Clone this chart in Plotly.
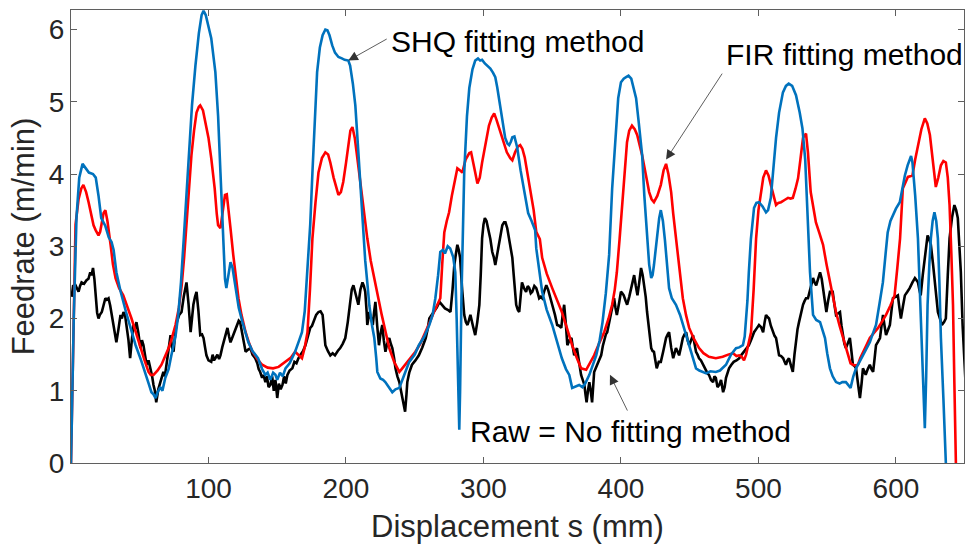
import plotly.graph_objects as go

# ---------------- data ----------------
shq_x = [0, 2, 4, 6, 8.4, 11, 13, 16, 18, 20, 22, 25, 27.5, 29.5, 31, 33, 36, 40, 44, 47, 51, 54, 56.5, 58.5, 60, 61.5, 63, 65, 66.5, 68.6, 71, 73, 76, 78, 80, 82, 84, 85.5, 88, 90.5, 93, 95, 96.4, 98, 100, 102, 105, 107, 108.7, 110, 111, 112, 113, 114.5, 116, 117.5, 119.6, 122, 124.7, 129, 132, 136, 139, 141.4, 143, 145, 147, 148.7, 150, 152, 154, 156, 159, 163, 166, 168, 170, 172, 174, 175.6, 177, 179, 181, 183, 185, 186.5, 188, 190, 192, 194.5, 197, 199, 201.7, 203, 205, 206.8, 208, 210, 212, 214, 215.5, 217, 219, 220.6, 222, 222.8, 225, 227, 228.6, 231, 233.7, 236, 238.8, 242, 246, 250, 253, 257, 260.6, 263, 265, 267, 268.6, 270.5, 272, 274, 275.8, 278, 279.5, 280.5, 281.5, 282.4, 283, 284, 286, 288, 289.7, 292, 294, 296, 297.6, 299, 301, 303, 305, 307, 308.6, 310, 312, 314, 315.8, 317.5, 318.7, 320, 321, 322.5, 324.5, 327, 329, 331, 332.5, 335, 337.6, 338.4, 340.5, 342.7, 346, 350, 353.5, 357, 360, 362.4, 364.5, 367, 369.6, 372, 374, 377, 379.5, 382, 384.5, 386.6, 389, 391.4, 393.6, 396.5, 398, 400, 402, 403.7, 405.5, 407.5, 409, 411, 413, 415.4, 417, 419, 420.5, 422, 423, 424, 426, 427.8, 429, 430.5, 432, 433.5, 435, 437, 440, 443, 447.4, 451, 454.6, 457, 459.7, 462, 465, 469, 472, 476.4, 480, 483.7, 486, 488.7, 490, 491, 492, 493, 494.5, 496.8, 498.5, 500.4, 503, 505.5, 507, 509, 511, 512.8, 515, 517.8, 520, 522, 524.5, 527.3, 530, 532, 534, 535.5, 537.5, 539.7, 542, 544.8, 546.5, 548.4, 550, 552, 554, 556.4, 559, 561, 563.6, 565, 567, 569, 571, 573.5, 576, 578.5, 581, 583, 585.5, 588, 590.5, 592.5, 594, 596, 597.8, 600, 602.8, 604.5, 606.5, 608.5, 610, 611, 612, 614, 616, 617.5, 619, 620, 621, 622, 623, 624.3, 625.4, 626.7, 628, 629.3, 630.5, 631.6, 632.7, 634.5, 636.3]
shq_y = [0, 2.0, 3.4, 3.95, 4.14, 4.08, 4.02, 4.0, 3.95, 3.7, 3.39, 3.28, 3.12, 3.06, 2.95, 2.64, 2.38, 2.09, 1.82, 1.63, 1.42, 1.26, 1.1, 0.98, 0.95, 0.9, 0.98, 1.05, 1.0, 1.18, 1.3, 1.49, 1.75, 2.05, 2.5, 3.1, 3.75, 4.26, 4.95, 5.5, 5.95, 6.2, 6.26, 6.2, 6.05, 5.88, 5.41, 4.8, 4.02, 3.4, 2.88, 2.55, 2.42, 2.6, 2.78, 2.7, 2.42, 2.15, 1.95, 1.67, 1.55, 1.45, 1.3, 1.22, 1.25, 1.15, 1.25, 1.22, 1.15, 1.25, 1.2, 1.31, 1.38, 1.54, 1.7, 1.81, 2.1, 2.64, 3.3, 4.02, 4.7, 5.41, 5.75, 5.92, 6.0, 5.99, 5.92, 5.78, 5.68, 5.62, 5.6, 5.58, 5.57, 5.5, 5.25, 4.95, 4.6, 4.0, 3.3, 2.8, 2.5, 2.18, 1.9, 1.73, 1.45, 1.26, 1.17, 1.15, 1.12, 1.06, 0.98, 1.02, 1.04, 1.2, 1.4, 1.5, 1.63, 1.75, 1.91, 2.05, 2.28, 2.6, 2.92, 2.95, 2.9, 3.0, 2.97, 2.85, 2.64, 2.0, 1.0, 0.46, 1.0, 2.3, 4.02, 4.8, 5.19, 5.45, 5.57, 5.6, 5.57, 5.58, 5.53, 5.5, 5.46, 5.4, 5.34, 5.2, 4.95, 4.7, 4.5, 4.42, 4.4, 4.45, 4.51, 4.52, 4.37, 4.05, 3.82, 3.6, 3.46, 3.35, 3.22, 2.97, 2.65, 2.37, 2.12, 1.91, 1.68, 1.45, 1.3, 1.22, 1.04, 1.06, 1.08, 1.05, 1.1, 1.22, 1.35, 1.49, 1.7, 1.95, 2.35, 2.88, 3.8, 4.72, 5.05, 5.27, 5.32, 5.34, 5.36, 5.32, 5.22, 5.05, 4.7, 4.26, 3.7, 3.11, 2.75, 2.56, 2.6, 2.74, 3.1, 3.39, 3.5, 3.35, 3.08, 2.75, 2.42, 2.28, 2.19, 2.05, 1.77, 1.55, 1.31, 1.28, 1.26, 1.24, 1.27, 1.26, 1.28, 1.36, 1.5, 1.59, 1.6, 1.63, 1.75, 1.95, 2.25, 2.64, 3.1, 3.53, 3.6, 3.61, 3.55, 3.47, 3.5, 3.67, 4.1, 4.5, 4.85, 5.13, 5.22, 5.25, 5.22, 5.09, 4.85, 4.63, 4.2, 3.5, 2.64, 2.05, 1.98, 1.95, 1.85, 1.73, 1.52, 1.31, 1.2, 1.12, 1.1, 1.12, 1.12, 1.08, 1.04, 1.2, 1.31, 1.4, 1.49, 1.58, 1.67, 1.78, 1.91, 2.2, 2.5, 2.9, 3.19, 3.35, 3.43, 3.52, 3.61, 3.8, 3.98, 4.12, 4.22, 4.25, 4.16, 3.7, 3.11, 2.3, 1.49, 0.9, 0.48, 1.2, 2.19, 2.75, 3.11, 3.35, 3.47, 3.35, 3.11, 2.5, 1.73, 0.9, 0]

fir_x = [0, 2, 3.3, 5.5, 7.5, 9, 11, 12.8, 14.5, 16.4, 18, 20, 21.2, 22.3, 23.7, 25, 26.5, 28.8, 30.5, 32.4, 35, 38, 41, 44, 47, 50.5, 53.5, 56.4, 58, 60, 63, 65.8, 68.5, 71, 73.5, 76, 78.5, 80.5, 82.3, 84, 86, 87.6, 89.5, 91.3, 93, 94, 96, 97.8, 100, 102, 104.5, 106, 107, 108.7, 110.5, 112, 113.3, 114.5, 116, 118, 120, 121.8, 124, 127, 129.5, 132, 135.5, 139, 143, 147, 151, 156, 160, 163, 165.5, 168, 170, 172, 173.8, 175.6, 177.8, 180, 182.5, 185, 187, 188.6, 191, 194.5, 196.3, 198, 200, 201.7, 203.2, 204.7, 206.4, 208, 210, 212, 213.8, 215.5, 218, 221, 223.5, 226, 229, 231.5, 235, 238.8, 240.5, 243, 246.5, 250.5, 254, 258, 261, 264, 266.5, 268.6, 270, 271.5, 273.3, 275, 277, 278.8, 281, 283, 284.6, 287, 289.7, 291, 292, 294, 295.6, 297.3, 299, 301.5, 304, 306, 307.8, 309.5, 311.4, 313, 315, 317, 319.5, 321, 323, 325, 326.7, 328.3, 330, 332, 334, 336.5, 338.4, 341, 342.7, 346, 350, 353.5, 357, 360.5, 364.5, 368, 371, 374.7, 377.5, 380.5, 384, 387.8, 391, 393.6, 395.5, 397, 399, 401, 402.7, 404.4, 406, 408, 410, 411.8, 413.6, 415.4, 418, 420.5, 422.3, 424, 426.5, 429, 431, 432.8, 434.5, 436.5, 438, 440, 442.5, 445, 447.3, 449.6, 453, 456.8, 460, 464, 469, 474, 478, 481.5, 484, 486, 487.8, 489.5, 491, 493, 494.6, 496.5, 498.3, 500, 501.8, 503.5, 505.5, 507.3, 509, 510.8, 512.8, 514.5, 516.4, 519, 521.5, 523.3, 525, 527, 528.8, 530.5, 532.4, 534.6, 536, 538, 540, 541.8, 544.5, 547, 549.5, 552, 554.2, 556.4, 559, 561.5, 564.3, 567, 569.7, 572.4, 574, 576, 578.5, 581, 584, 587, 590, 592.8, 596, 599, 601, 603, 605, 607, 608.7, 610.4, 612, 614, 616, 618.5, 621, 622.8, 624.7, 626.8, 629, 630.8, 632.7, 634.5, 636.3, 637.7, 639, 640.3, 641.5, 642.5, 643.6]
fir_y = [0, 2.0, 3.3, 3.65, 3.8, 3.85, 3.75, 3.61, 3.45, 3.29, 3.22, 3.15, 3.2, 3.33, 3.46, 3.5, 3.35, 3.02, 2.75, 2.56, 2.42, 2.32, 2.17, 2.0, 1.82, 1.59, 1.42, 1.26, 1.22, 1.22, 1.28, 1.36, 1.47, 1.59, 1.74, 1.91, 2.15, 2.46, 2.85, 3.33, 3.85, 4.26, 4.6, 4.85, 4.93, 4.95, 4.88, 4.72, 4.5, 4.22, 3.8, 3.45, 3.29, 3.25, 3.55, 3.71, 3.72, 3.53, 3.25, 2.88, 2.55, 2.28, 2.05, 1.81, 1.66, 1.54, 1.44, 1.36, 1.32, 1.31, 1.33, 1.4, 1.46, 1.54, 1.5, 1.45, 1.6, 1.81, 2.4, 3.11, 3.6, 4.02, 4.22, 4.3, 4.27, 4.16, 3.95, 3.71, 3.75, 3.89, 4.15, 4.4, 4.6, 4.65, 4.5, 4.26, 3.95, 3.62, 3.35, 3.11, 2.8, 2.5, 2.27, 2.05, 1.8, 1.59, 1.4, 1.26, 1.3, 1.36, 1.45, 1.54, 1.65, 1.81, 1.95, 2.09, 2.2, 2.28, 2.75, 3.19, 3.35, 3.47, 3.7, 3.89, 4.08, 4.05, 4.02, 4.2, 4.29, 4.3, 4.22, 4.02, 3.87, 3.95, 4.16, 4.42, 4.67, 4.78, 4.84, 4.75, 4.63, 4.52, 4.4, 4.3, 4.22, 4.19, 4.3, 4.38, 4.4, 4.35, 4.23, 4.02, 3.82, 3.5, 3.2, 3.1, 2.84, 2.62, 2.42, 2.25, 2.09, 1.88, 1.63, 1.45, 1.31, 1.29, 1.38, 1.49, 1.65, 1.81, 2.0, 2.19, 2.4, 2.64, 3.1, 3.57, 4.05, 4.44, 4.6, 4.67, 4.62, 4.54, 4.4, 4.26, 4.0, 3.75, 3.65, 3.61, 3.7, 3.85, 4.05, 4.14, 4.0, 3.75, 3.45, 3.11, 2.7, 2.28, 2.05, 1.87, 1.72, 1.59, 1.52, 1.47, 1.45, 1.47, 1.5, 1.52, 1.48, 1.49, 1.47, 1.42, 1.5, 1.65, 1.81, 2.4, 3.11, 3.5, 3.75, 3.95, 4.05, 3.98, 3.85, 3.7, 3.57, 3.6, 3.61, 3.64, 3.67, 3.66, 3.67, 3.8, 3.94, 4.2, 4.5, 4.56, 4.3, 3.75, 3.5, 3.33, 3.17, 3.02, 2.75, 2.5, 2.3, 2.09, 1.9, 1.73, 1.55, 1.38, 1.35, 1.36, 1.45, 1.54, 1.63, 1.73, 1.8, 1.87, 1.96, 2.05, 2.18, 2.32, 2.7, 3.11, 3.8, 3.9, 3.96, 3.97, 3.98, 4.2, 4.4, 4.62, 4.77, 4.7, 4.54, 4.2, 3.82, 3.95, 4.12, 4.18, 4.16, 3.95, 3.57, 2.9, 2.19, 1.1, 0]

raw_x = [0.5, 1.5, 3.3, 4.5, 5.5, 6.6, 7.7, 9.5, 11.3, 12.7, 14, 15, 16, 17, 17.8, 19, 20, 21, 22.4, 23.7, 25, 26, 27.3, 28.5, 29.6, 31, 32, 33, 34.5, 36, 37, 38.2, 39.3, 40.5, 41.8, 43, 44.2, 45.3, 46.5, 47.6, 49, 50.5, 51.6, 52.7, 53.8, 55, 56.4, 57.8, 59, 60, 61, 62, 63.5, 65, 66, 67.2, 68.3, 69.5, 71, 72.4, 73.5, 74.6, 75.8, 77, 78.7, 80.4, 82, 84, 85.5, 87, 88, 89, 90.2, 91.3, 92.7, 94, 95.3, 96.4, 97.5, 98.5, 100, 102, 103, 104, 105, 106.5, 107.7, 108.7, 110, 111, 112.4, 113.8, 115, 116, 117, 118, 119.5, 121, 122, 123, 124.5, 126, 127, 128.8, 130.5, 132, 134, 135.5, 136.5, 137.6, 139, 140, 141.4, 142.5, 143.7, 145, 146.3, 147.5, 148.7, 150, 151.2, 152.5, 153.8, 155, 156.2, 157.4, 159, 161, 162.5, 164, 165.4, 167, 168.8, 170.5, 172.2, 174, 175.3, 176.5, 178.3, 180, 181.5, 183, 184, 185, 186.8, 188.6, 190.3, 192, 194, 195.8, 197.6, 199.5, 201.3, 203, 204.2, 205.4, 207, 209, 210.5, 212, 213, 214, 215, 215.5, 216.3, 217, 218.3, 219.5, 220.5, 221.4, 222.7, 224, 225.2, 226.4, 227.5, 228.7, 230, 231.5, 232.6, 233.7, 235, 236, 237.4, 238.8, 240, 241, 242, 243, 244, 244.6, 246, 248, 250.5, 253, 255.5, 258, 259.4, 260.6, 262.3, 264, 266, 268, 270, 272, 274, 276, 277.5, 278.8, 280, 281, 282, 283, 284.5, 286, 287.2, 288.4, 289.5, 290.5, 292.3, 294, 295.5, 297, 298, 299, 300, 301, 302.2, 303.4, 305, 306.4, 307.5, 308.6, 310, 311.4, 312.5, 313.7, 315, 316, 317.3, 318.7, 320, 321, 322, 323.8, 325, 326, 327, 328, 329.5, 331, 332.2, 333.3, 334.4, 335.5, 337, 338.4, 339.5, 340.5, 341.6, 342.7, 344.2, 345.7, 347, 348, 349, 350, 352, 353.6, 355, 356.6, 357.6, 358.7, 360, 361, 362.5, 364, 365, 366, 367, 368, 369.5, 371, 372.2, 373.4, 374.2, 375, 376, 377, 378, 379, 380.5, 381.6, 382.7, 384, 385.6, 386.8, 388, 389, 390, 391.5, 393, 394, 395, 396, 397, 398.5, 400, 401, 402, 403.3, 404.5, 406, 407.4, 408.5, 409.6, 410.8, 412, 413.3, 414.6, 415.8, 417, 418, 419, 420.5, 422, 423, 424, 425, 426, 427.5, 429, 430.8, 432.8, 434, 435, 436.5, 438, 439, 440, 441, 442.3, 443.6, 445, 446.2, 447.4, 448.5, 449.6, 451, 452.4, 453.5, 454.6, 455.7, 456.8, 458.2, 459.7, 461, 462, 463, 464, 465.5, 467, 468, 469, 470.2, 471.5, 472.8, 474.3, 475.4, 476.4, 477.5, 478.6, 480.3, 482, 484, 486, 487.8, 489.5, 491.3, 493, 495, 496.8, 498.6, 500.4, 502, 503.4, 504.5, 505.5, 506.6, 507.7, 509, 510.6, 511.7, 512.8, 514, 515, 516.5, 518, 519, 520, 521.1, 522.2, 523.6, 525, 526.2, 527.3, 528.4, 529.5, 531, 532.4, 533.5, 534.6, 536, 537.8, 539.7, 540.8, 542, 543.4, 544.8, 546, 547, 548.2, 549.4, 550.7, 552, 553, 554, 555.2, 556.4, 557.8, 559.3, 560.4, 561.5, 562.5, 563.6, 565, 566.5, 567.6, 568.7, 570, 571, 572.4, 573.8, 575, 576, 577, 578, 579.5, 581, 582.2, 583.4, 584.5, 585.5, 587, 588.4, 589.5, 590.6, 591.7, 592.8, 594.2, 595.6, 596.7, 597.8, 599.6, 601.4, 602.5, 603.6, 605, 606.5, 608.3, 610, 612, 613.8, 615, 616, 617, 618, 619.5, 621, 622, 623, 624.2, 625.4, 627, 628.3, 629.4, 630.5, 632, 633.4, 635, 636.3, 637.7, 639, 640.8, 642.5, 643.8, 645, 646, 647.2, 648.5, 650, 652]
raw_y = [2.3, 2.45, 2.46, 2.4, 2.37, 2.45, 2.5, 2.48, 2.53, 2.55, 2.64, 2.6, 2.7, 2.55, 2.32, 2.08, 2.0, 2.05, 2.09, 2.2, 2.28, 2.26, 2.28, 2.18, 2.05, 1.9, 1.75, 1.67, 1.85, 2.05, 2.0, 2.09, 2.05, 1.91, 1.7, 1.45, 1.65, 1.91, 1.85, 1.95, 1.8, 1.59, 1.7, 1.63, 1.5, 1.36, 1.42, 1.31, 1.2, 1.08, 1.0, 0.84, 1.02, 1.12, 1.2, 1.26, 1.2, 1.36, 1.55, 1.77, 1.6, 1.54, 1.8, 1.95, 2.05, 2.09, 2.3, 2.5, 2.2, 1.81, 2.0, 2.19, 2.3, 2.37, 2.1, 1.77, 1.78, 1.73, 1.6, 1.49, 1.42, 1.4, 1.5, 1.42, 1.45, 1.5, 1.44, 1.49, 1.6, 1.67, 1.8, 1.87, 1.75, 1.67, 1.72, 1.77, 1.85, 1.91, 1.97, 1.95, 1.8, 1.62, 1.54, 1.57, 1.59, 1.5, 1.45, 1.38, 1.3, 1.26, 1.18, 1.22, 1.12, 1.2, 1.05, 1.08, 1.2, 1.0, 1.15, 0.9, 1.1, 1.02, 1.08, 1.2, 1.1, 1.22, 1.28, 1.31, 1.4, 1.38, 1.45, 1.5, 1.55, 1.63, 1.75, 1.87, 1.9, 1.95, 2.05, 2.09, 2.1, 2.05, 1.8, 1.63, 1.55, 1.49, 1.52, 1.49, 1.55, 1.59, 1.65, 1.73, 1.95, 2.19, 2.4, 2.46, 2.35, 2.19, 2.4, 2.5, 2.45, 2.37, 2.1, 1.91, 2.0, 2.09, 2.0, 1.91, 2.1, 2.23, 1.9, 1.63, 1.8, 1.91, 1.7, 1.54, 1.65, 1.73, 1.65, 1.59, 1.45, 1.31, 1.2, 1.12, 1.0, 0.9, 0.8, 0.71, 0.95, 1.12, 1.25, 1.36, 1.42, 1.49, 1.6, 1.73, 1.85, 2.0, 2.05, 2.09, 2.15, 2.23, 2.18, 2.14, 2.12, 2.09, 2.4, 2.74, 2.9, 3.02, 2.95, 2.84, 2.4, 2.05, 1.95, 1.91, 1.98, 2.05, 1.9, 1.77, 1.95, 2.19, 2.6, 3.11, 3.3, 3.39, 3.35, 3.25, 3.1, 2.92, 2.85, 2.74, 2.88, 3.02, 3.15, 3.29, 3.33, 3.33, 3.25, 3.11, 2.95, 2.84, 2.6, 2.19, 2.12, 2.09, 2.3, 2.5, 2.42, 2.37, 2.45, 2.42, 2.35, 2.37, 2.45, 2.42, 2.35, 2.28, 2.3, 2.28, 2.38, 2.46, 2.4, 2.32, 2.25, 2.19, 2.05, 1.91, 1.9, 1.87, 2.05, 2.19, 1.9, 1.63, 1.7, 1.73, 1.6, 1.49, 1.55, 1.59, 1.4, 1.22, 1.15, 1.08, 0.95, 0.84, 1.0, 1.12, 1.0, 0.84, 1.26, 1.3, 1.36, 1.42, 1.49, 1.62, 1.73, 1.78, 1.81, 1.95, 2.09, 2.2, 2.28, 2.15, 2.05, 2.2, 2.37, 2.35, 2.32, 2.25, 2.19, 2.3, 2.42, 2.5, 2.6, 2.45, 2.32, 2.5, 2.7, 2.6, 2.46, 2.3, 2.09, 1.85, 1.59, 1.55, 1.54, 1.42, 1.31, 1.4, 1.4, 1.55, 1.73, 1.78, 1.81, 1.6, 1.45, 1.52, 1.59, 1.55, 1.49, 1.6, 1.73, 1.78, 1.81, 1.7, 1.63, 1.7, 1.77, 1.65, 1.54, 1.5, 1.45, 1.42, 1.36, 1.3, 1.26, 1.24, 1.22, 1.15, 1.12, 1.2, 1.18, 1.05, 1.08, 1.15, 0.98, 1.05, 1.18, 1.25, 1.31, 1.36, 1.4, 1.42, 1.45, 1.5, 1.54, 1.58, 1.63, 1.72, 1.81, 1.86, 1.91, 1.88, 1.81, 1.95, 2.05, 2.02, 2.0, 1.9, 1.81, 1.76, 1.73, 1.6, 1.49, 1.48, 1.45, 1.4, 1.36, 1.42, 1.45, 1.35, 1.26, 1.5, 1.73, 1.85, 1.95, 2.08, 2.19, 2.24, 2.28, 2.28, 2.42, 2.56, 2.5, 2.46, 2.55, 2.64, 2.55, 2.42, 2.25, 2.09, 2.25, 2.37, 2.37, 2.37, 2.2, 2.05, 2.07, 2.09, 1.9, 1.73, 1.65, 1.59, 1.66, 1.73, 1.55, 1.36, 1.34, 1.31, 1.1, 0.9, 1.1, 1.31, 1.27, 1.22, 1.3, 1.36, 1.3, 1.26, 1.45, 1.63, 1.68, 1.73, 1.9, 2.05, 1.9, 1.77, 1.84, 1.91, 2.1, 2.28, 2.3, 2.32, 2.15, 2.0, 2.16, 2.32, 2.37, 2.42, 2.5, 2.56, 2.53, 2.5, 2.4, 2.32, 2.6, 2.84, 3.0, 3.15, 3.1, 3.02, 2.75, 2.5, 2.3, 2.09, 2.0, 1.91, 1.95, 2.0, 2.6, 3.11, 3.4, 3.57, 3.5, 3.39, 3.05, 2.64, 1.9, 1.26, 0.6]

x_ticks = [100, 200, 300, 400, 500, 600]
y_ticks = [0, 1, 2, 3, 4, 5, 6]

FONT = "Liberation Sans, Arial, Helvetica, sans-serif"
TXT = "#262626"

fig = go.Figure()
fig.add_trace(go.Scatter(x=raw_x, y=raw_y, mode="lines", name="Raw",
                         line=dict(color="#000000", width=2.6)))
fig.add_trace(go.Scatter(x=fir_x, y=fir_y, mode="lines", name="FIR",
                         line=dict(color="#FF0000", width=2.6)))
fig.add_trace(go.Scatter(x=shq_x, y=shq_y, mode="lines", name="SHQ",
                         line=dict(color="#0072BD", width=2.6)))

# arrows (head at curve, tail near label)
arrows = [
    dict(x=201.7, y=5.57, ax=230.7, ay=5.88),
    dict(x=432.8, y=4.20, ax=474.3, ay=5.41),
    dict(x=392.0, y=1.22, ax=405.2, ay=0.705),
]
for a in arrows:
    fig.add_annotation(x=a["x"], y=a["y"], ax=a["ax"], ay=a["ay"],
                       xref="x", yref="y", axref="x", ayref="y", text="",
                       showarrow=True, arrowhead=2, arrowsize=2.4,
                       arrowwidth=0.8, arrowcolor="#333333", standoff=0,
                       startstandoff=0)

labels = [
    dict(x=231.5, y=5.84, text="SHQ fitting method"),
    dict(x=475.0, y=5.66, text="FIR fitting method"),
    dict(x=288.5, y=0.43, text="Raw = No fitting method"),
]
for l in labels:
    fig.add_annotation(x=l["x"], y=l["y"], xref="x", yref="y", text=l["text"],
                       showarrow=False, xanchor="left", yanchor="middle",
                       font=dict(family=FONT, size=30, color="#000000"))

axis_common = dict(showline=True, linecolor="#5f5f5f", linewidth=1,
                   mirror="ticks", ticks="inside", ticklen=6,
                   tickcolor="#5f5f5f", showgrid=False, zeroline=False,
                   tickfont=dict(family=FONT, size=28, color=TXT))

fig.update_layout(
    width=965, height=550,
    margin=dict(l=71, r=1, t=10, b=87),
    paper_bgcolor="white", plot_bgcolor="white",
    showlegend=False,
    xaxis=dict(range=[0, 649.5], tickvals=x_ticks,
               title=dict(text="Displacement s (mm)",
                          font=dict(family=FONT, size=31, color=TXT),
                          standoff=12),
               **axis_common),
    yaxis=dict(range=[0, 6.27], tickvals=y_ticks,
               title=dict(text="Feedrate (m/min)",
                          font=dict(family=FONT, size=31, color=TXT),
                          standoff=4),
               **axis_common),
)

fig.write_html("out.html")
